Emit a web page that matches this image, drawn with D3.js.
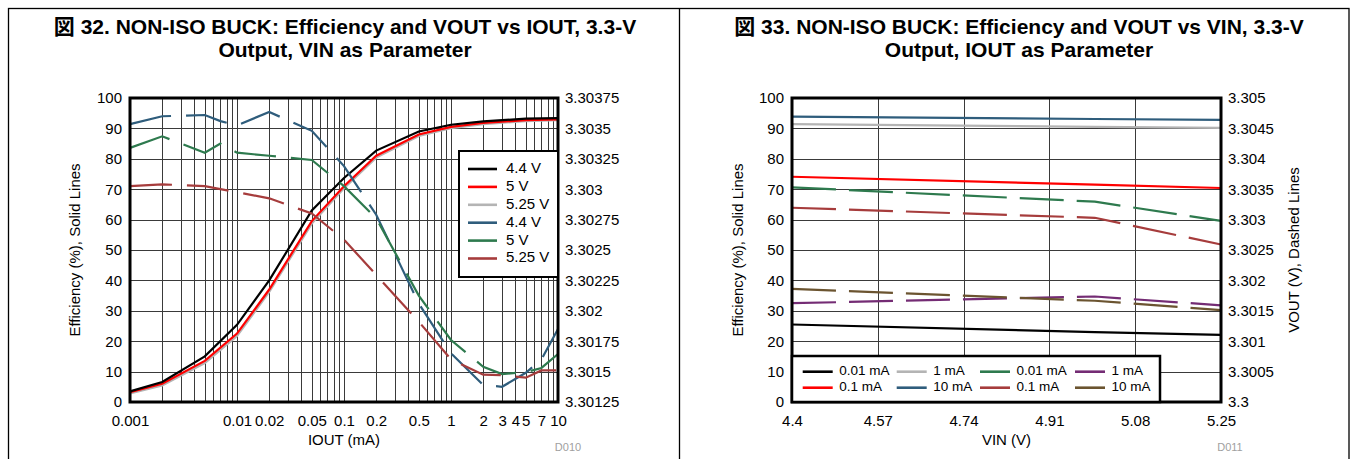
<!DOCTYPE html>
<html><head><meta charset="utf-8">
<script src="https://cdn.jsdelivr.net/npm/d3@7"></script>
<style>
body{margin:0;background:#fff;}
text{font-family:"Liberation Sans",Arial,"Noto Sans CJK JP",sans-serif;}
</style>
</head><body>
<svg id="c" width="1353" height="459"></svg>
<script>
// ---------- DATA: figure 32 (efficiency & VOUT vs IOUT) ----------
const ioutEff = [0.001,0.002,0.005,0.01,0.02,0.05,0.1,0.2,0.5,1,2,5,10];
const eff44V  = [3.5,6.6,15,25.4,40,63,73.7,82.7,89,91.2,92.3,93.2,93.4];
const eff50V  = [3.2,6.0,13.5,22.5,37,59.5,71,81,88,90.5,91.8,92.7,93];
const eff525V = [2.8,5.4,12.8,21.7,36.2,58.7,70.3,80.4,87.5,90.1,91.4,92.4,92.7];
const ioutVout = [0.001,0.002,0.005,0.007,0.01,0.02,0.05,0.1,0.2,0.5,1,2,3,5,7,10];
const vout44V  = [3.303535,3.3036,3.30361,3.30356,3.303525,3.303635,3.30348,3.30319,3.30279,3.30206,3.30165,3.30139,3.301375,3.30149,3.3016,3.30185];
const vout50V  = [3.30334,3.303435,3.3033,3.303375,3.3033,3.303275,3.30324,3.303025,3.30276,3.302125,3.30176,3.30154,3.30148,3.301495,3.30153,3.301645];
const vout525V = [3.303025,3.30304,3.303025,3.303,3.302975,3.302925,3.3028,3.302585,3.302295,3.30191,3.3016,3.301475,3.30147,3.30145,3.30151,3.30151];
const ioutTicks = [0.001,0.01,0.02,0.05,0.1,0.2,0.5,1,2,3,4,5,7,10];
const ioutTickLabels = ["0.001","0.01","0.02","0.05","0.1","0.2","0.5","1","2","3","4","5","7","10"];
const effTicks = [0,10,20,30,40,50,60,70,80,90,100];
const vout1Ticks = [3.30125,3.3015,3.30175,3.302,3.30225,3.3025,3.30275,3.303,3.30325,3.3035,3.30375];
const legend1Labels = ["4.4 V","5 V","5.25 V","4.4 V","5 V","5.25 V"];

// ---------- DATA: figure 33 (efficiency & VOUT vs VIN) ----------
const vin = [4.4,5.0,5.25];
const eff001mA = [25.5,23.0,22.1];
const eff01mA  = [74.1,71.5,70.4];
const eff1mA   = [91.4,90.5,90.2];
const eff10mA  = [93.9,93.1,92.8];
const vout001mA = [3.30353,3.303295,3.30298];
const vout01mA  = [3.303195,3.30303,3.30259];
const vout1mA   = [3.301625,3.301735,3.30159];
const vout10mA  = [3.30186,3.301665,3.30151];
const vinTicks = [4.4,4.57,4.74,4.91,5.08,5.25];
const vout2Ticks = [3.3,3.3005,3.301,3.3015,3.302,3.3025,3.303,3.3035,3.304,3.3045,3.305];
const legend2Labels = ["0.01 mA","1 mA","0.01 mA","1 mA","0.1 mA","10 mA","0.1 mA","10 mA"];

// ---------- STYLE ----------
const C = {black:"#000000", red:"#ff0000", grey:"#b4b4b4", blue:"#2f5d7c", green:"#2e7a4e", rust:"#a63c3c", purple:"#742c74", brown:"#6b5430"};
const svg = d3.select("#c");
const FS = 15;
const trim = s => s.replace(/0+$/,"").replace(/\.$/,"");

// outer frame
svg.append("rect").attr("x",8.5).attr("y",8.5).attr("width",1340.5).attr("height",470).attr("fill","none").attr("stroke","#000").attr("stroke-width",1.3);
svg.append("line").attr("x1",679.5).attr("x2",679.5).attr("y1",8).attr("y2",459).attr("stroke","#000").attr("stroke-width",1.3);

function title(cx, l1, l2){
  const t = svg.append("text").attr("text-anchor","middle").attr("font-weight","bold").attr("font-size",21).attr("fill","#000");
  t.append("tspan").attr("x",cx).attr("y",33.5).text(l1);
  t.append("tspan").attr("x",cx).attr("y",56.5).text(l2);
}
title(345,"図 32. NON-ISO BUCK: Efficiency and VOUT vs IOUT, 3.3-V","Output, VIN as Parameter");
title(1019,"図 33. NON-ISO BUCK: Efficiency and VOUT vs VIN, 3.3-V","Output, IOUT as Parameter");

function panel(o){
  const g = svg.append("g");
  const x = o.x, yL = d3.scaleLinear().domain([0,100]).range([o.bottom,o.top]);
  const yR = d3.scaleLinear().domain(o.rDomain).range([o.bottom,o.top]);
  // grid
  g.append("g").selectAll("line").data(o.gridX).join("line")
    .attr("x1",d=>Math.round(x(d))+0.5).attr("x2",d=>Math.round(x(d))+0.5)
    .attr("y1",o.top).attr("y2",o.bottom).attr("stroke","#3a3a3a").attr("stroke-width",1);
  g.append("g").selectAll("line").data(effTicks).join("line")
    .attr("y1",d=>Math.round(yL(d))+0.5).attr("y2",d=>Math.round(yL(d))+0.5)
    .attr("x1",o.left).attr("x2",o.right).attr("stroke","#3a3a3a").attr("stroke-width",1);
  // left axis labels
  const axL = d3.axisLeft(yL).tickValues(effTicks).tickSize(0).tickPadding(8);
  const gl = g.append("g").attr("transform",`translate(${o.left},0)`).call(axL);
  gl.select(".domain").remove();
  gl.selectAll("text").attr("font-size",FS).attr("font-family",null).attr("fill","#000");
  // right axis labels
  const axR = d3.axisRight(yR).tickValues(o.rTicks).tickSize(0).tickPadding(7).tickFormat(o.rFmt);
  const gr = g.append("g").attr("transform",`translate(${o.right},0)`).call(axR);
  gr.select(".domain").remove();
  gr.selectAll("text").attr("font-size",FS).attr("font-family",null).attr("fill","#000");
  // bottom axis labels
  const axB = d3.axisBottom(x).tickValues(o.xTicks).tickSize(0).tickPadding(13).tickFormat(o.xFmt);
  const gb = g.append("g").attr("transform",`translate(0,${o.bottom})`).call(axB);
  gb.select(".domain").remove();
  gb.selectAll("text").attr("font-size",FS).attr("font-family",null).attr("fill","#000");
  // series
  o.series.forEach(s=>{
    const sc = s.right ? yR : yL;
    const line = d3.line().x((d,i)=>x(s.xs[i])).y(d=>sc(d));
    g.append("path").datum(s.ys).attr("d",line).attr("fill","none")
      .attr("stroke",s.color).attr("stroke-width",2.2)
      .attr("stroke-dasharray",s.right? o.dash : null);
  });
  // frame
  g.append("rect").attr("x",o.left).attr("y",o.top).attr("width",o.right-o.left).attr("height",o.bottom-o.top)
    .attr("fill","none").attr("stroke","#000").attr("stroke-width",3);
  // axis titles
  const cy = (o.top+o.bottom)/2;
  svg.append("text").attr("transform",`translate(${o.yTitleX},${cy}) rotate(-90)`).attr("text-anchor","middle")
    .attr("dominant-baseline","middle").attr("font-size",FS).text("Efficiency (%), Solid Lines");
  if(o.rTitle) svg.append("text").attr("transform",`translate(${o.rTitleX},${cy}) rotate(-90)`).attr("text-anchor","middle")
    .attr("dominant-baseline","middle").attr("font-size",FS).text(o.rTitle);
  svg.append("text").attr("x",(o.left+o.right)/2).attr("y",445).attr("text-anchor","middle").attr("font-size",FS).text(o.xTitle);
  svg.append("text").attr("x",o.tagX).attr("y",451).attr("text-anchor","middle").attr("font-size",11).attr("fill","#a0a0a0").text(o.tag);
  return g;
}

// ----- figure 32 -----
const x1 = d3.scaleLog().domain([0.001,10]).range([130,558]);
const grid1 = [];
[0.001,0.01,0.1,1].forEach(d=>{for(let k=1;k<=9;k++) grid1.push(d*k);}); grid1.push(10);
const s1 = [
  {xs:ioutEff, ys:eff525V, color:C.grey},
  {xs:ioutEff, ys:eff50V, color:C.red},
  {xs:ioutEff, ys:eff44V, color:C.black},
  {xs:ioutVout, ys:vout44V, color:C.blue, right:true},
  {xs:ioutVout, ys:vout50V, color:C.green, right:true},
  {xs:ioutVout, ys:vout525V, color:C.rust, right:true}
];
panel({x:x1, left:130, right:558, top:98, bottom:402, gridX:grid1, xTicks:ioutTicks,
  xFmt:(d,i)=>ioutTickLabels[i], rDomain:[3.30125,3.30375], rTicks:vout1Ticks, rFmt:d=>trim(d.toFixed(5)),
  series:s1, dash:"42,15", yTitleX:76, xTitle:"IOUT (mA)", tag:"D010", tagX:568});

// legend 1
{
  const lg = svg.append("g");
  lg.append("rect").attr("x",459).attr("y",151).attr("width",99).attr("height",126).attr("fill","#fff").attr("stroke","#000").attr("stroke-width",2);
  const cols = [C.black,C.red,C.grey,C.blue,C.green,C.rust];
  legend1Labels.forEach((t,i)=>{
    const yy = 169 + i*17.9;
    lg.append("line").attr("x1",468).attr("x2",497).attr("y1",yy).attr("y2",yy).attr("stroke",cols[i]).attr("stroke-width",2.6);
    lg.append("text").attr("x",506).attr("y",yy).attr("dominant-baseline","middle").attr("font-size",FS).text(t);
  });
}

// ----- figure 33 -----
const x2 = d3.scaleLinear().domain([4.4,5.25]).range([792,1221]);
const s2 = [
  {xs:vin, ys:eff001mA, color:C.black},
  {xs:vin, ys:eff01mA, color:C.red},
  {xs:vin, ys:eff1mA, color:C.grey},
  {xs:vin, ys:eff10mA, color:C.blue},
  {xs:vin, ys:vout001mA, color:C.green, right:true},
  {xs:vin, ys:vout01mA, color:C.rust, right:true},
  {xs:vin, ys:vout1mA, color:C.purple, right:true},
  {xs:vin, ys:vout10mA, color:C.brown, right:true}
];
panel({x:x2, left:792, right:1221, top:98, bottom:402, gridX:vinTicks, xTicks:vinTicks,
  xFmt:d=>trim(d.toFixed(2)), rDomain:[3.3,3.305], rTicks:vout2Ticks, rFmt:d=>trim(d.toFixed(4)),
  series:s2, dash:"44,13", yTitleX:739, rTitle:"VOUT (V), Dashed Lines", rTitleX:1295, xTitle:"VIN (V)", tag:"D011", tagX:1230});

// legend 2
{
  const lg = svg.append("g");
  lg.append("rect").attr("x",792).attr("y",356).attr("width",368).attr("height",46).attr("fill","#fff").attr("stroke","#000").attr("stroke-width",2.5);
  const cols = [C.black,C.grey,C.green,C.purple,C.red,C.blue,C.rust,C.brown];
  const colX = [802.7,896.7,980,1075];
  legend2Labels.forEach((t,i)=>{
    const r = Math.floor(i/4), c = i%4;
    const yy = 371.7 + r*16;
    lg.append("line").attr("x1",colX[c]).attr("x2",colX[c]+30).attr("y1",yy).attr("y2",yy).attr("stroke",cols[i]).attr("stroke-width",2.6);
    lg.append("text").attr("x",colX[c]+36.6).attr("y",yy).attr("dominant-baseline","middle").attr("font-size",13.5).text(t);
  });
}
</script>
</body></html>
